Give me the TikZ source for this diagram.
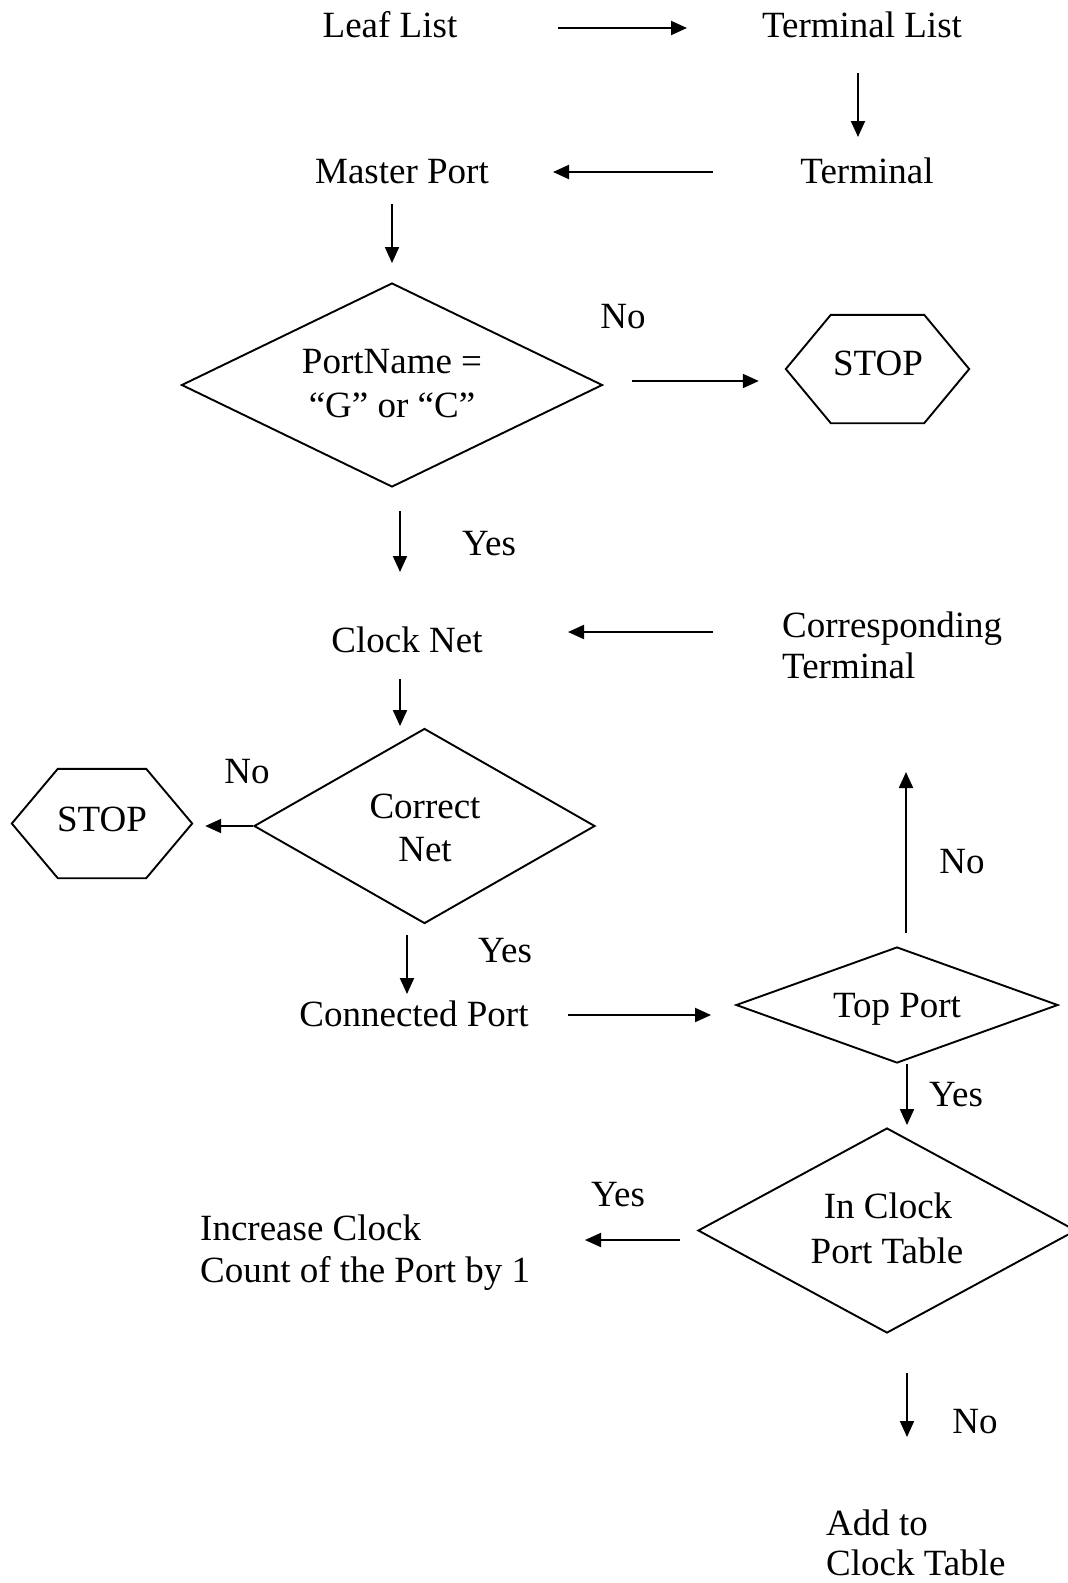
\documentclass[tikz,border=0pt]{standalone}
\usepackage{fontspec}
\setmainfont{Liberation Serif}
\usetikzlibrary{shapes.geometric,arrows.meta}
\begin{document}
\begin{tikzpicture}[x=1pt,y=-1pt,
  txt/.style={font=\fontsize{37}{44}\selectfont, inner sep=0pt,
              text height=26pt, text depth=8pt, anchor=base},
  txtl/.style={txt, anchor=base west},
  outline/.style={draw, line width=1.9pt},
  decision/.style={diamond, outline, inner sep=0pt},
  hexframe/.style={inner sep=0pt},
  arr/.style={line width=2pt, -{Triangle[length=16pt,width=14pt]}}]

\useasboundingbox (0,0) rectangle (1068,1583);

% ---- text labels ----
\node[txt] (leaf)   at (390,37)   {Leaf List};
\node[txt] (terml)  at (862,37)   {Terminal List};
\node[txt] (term)   at (867,183)  {Terminal};
\node[txt] (master) at (402,183)  {Master Port};
\node[txt] (pnA)    at (392,373)  {PortName =};
\node[txt] (pnB)    at (392,417)  {“G” or “C”};
\node[txt] (noA)    at (623,328)  {No};
\node[txt] (stopAt) at (878,375)  {STOP};
\node[txt] (yesA)   at (489,555)  {Yes};
\node[txt] (clock)  at (407,652)  {Clock Net};
\node[txtl] (corrA) at (782,637)  {Corresponding};
\node[txtl] (corrB) at (782,678)  {Terminal};
\node[txt] (noB)    at (247,783)  {No};
\node[txt] (stopBt) at (102,831)  {STOP};
\node[txt] (cnA)    at (425,818)  {Correct};
\node[txt] (cnB)    at (425,861)  {Net};
\node[txt] (yesB)   at (505,962)  {Yes};
\node[txt] (conn)   at (414,1026) {Connected Port};
\node[txt] (tpt)    at (897,1017) {Top Port};
\node[txt] (noC)    at (962,873)  {No};
\node[txt] (yesC)   at (956,1106) {Yes};
\node[txt] (ictA)   at (888,1218) {In Clock};
\node[txt] (ictB)   at (887,1263) {Port Table};
\node[txt] (yesD)   at (618,1206) {Yes};
\node[txtl] (incA)  at (200,1240) {Increase Clock};
\node[txtl] (incB)  at (200,1282) {Count of the Port by 1};
\node[txt] (noD)    at (975,1433) {No};
\node[txtl] (addA)  at (826,1535) {Add to};
\node[txtl] (addB)  at (826,1575) {Clock Table};

% ---- decision diamonds ----
\node[decision, minimum width=421pt, minimum height=204pt] (pn)   at (392,385)    {};
\node[decision, minimum width=341pt, minimum height=195pt] (cnet) at (424.5,826)  {};
\node[decision, minimum width=322pt, minimum height=116pt] (tp)   at (897,1005)   {};
\node[decision, minimum width=378pt, minimum height=205pt] (ict)  at (887,1230.5) {};

% ---- STOP hexagons ----
\node[hexframe, minimum width=183pt, minimum height=108pt] (stopA) at (877.5,369) {};
\draw[outline] (stopA.west) -- ([shift={(45,0)}]stopA.north west)
  -- ([shift={(-45,0)}]stopA.north east) -- (stopA.east)
  -- ([shift={(-45,0)}]stopA.south east) -- ([shift={(45,0)}]stopA.south west) -- cycle;
\node[hexframe, minimum width=180pt, minimum height=109pt] (stopB) at (102,823.5) {};
\draw[outline] (stopB.west) -- ([shift={(46,0)}]stopB.north west)
  -- ([shift={(-46,0)}]stopB.north east) -- (stopB.east)
  -- ([shift={(-46,0)}]stopB.south east) -- ([shift={(46,0)}]stopB.south west) -- cycle;

% ---- connectors ----
\draw[arr] ([shift={(168,0)}]leaf.center) -- ([shift={(-175,0)}]terml.center);
\draw[arr] ([shift={(-4,45)}]terml.center) -- ([shift={(-9,-37)}]term.center);
\draw[arr] ([shift={(-154,-2)}]term.center) -- ([shift={(151,-2)}]master.center);
\draw[arr] ([shift={(-10,30)}]master.center) -- ([shift={(0,-19)}]pn.north);
\draw[arr] ([shift={(29,-4)}]pn.east) -- ([shift={(-27,12)}]stopA.west);
\draw[arr] ([shift={(8,23)}]pn.south) -- ([shift={(-7,-71)}]clock.center);
\draw[arr] ([shift={(-69,-5)}]corrA.base west) -- ([shift={(161,-11)}]clock.center);
\draw[arr] ([shift={(-7,36)}]clock.center) -- ([shift={(-24.5,-1.5)}]cnet.north);
\draw[arr] (cnet.west) -- ([shift={(13,2.5)}]stopB.east);
\draw[arr] ([shift={(-17.5,10.5)}]cnet.south) -- ([shift={(-7,-23)}]conn.center);
\draw[arr] ([shift={(154,-2)}]conn.center) -- ([shift={(-24,10)}]tp.west);
\draw[arr] ([shift={(9,-13)}]tp.north) -- ([shift={(124,94)}]corrB.base west);
\draw[arr] ([shift={(10,0)}]tp.south) -- ([shift={(20,-2)}]ict.north);
\draw[arr] ([shift={(-17,9.5)}]ict.west) -- ([shift={(385,0)}]incA.base west);
\draw[arr] ([shift={(20,39)}]ict.south) -- ([shift={(81,-98)}]addA.base west);

\end{tikzpicture}
\end{document}
